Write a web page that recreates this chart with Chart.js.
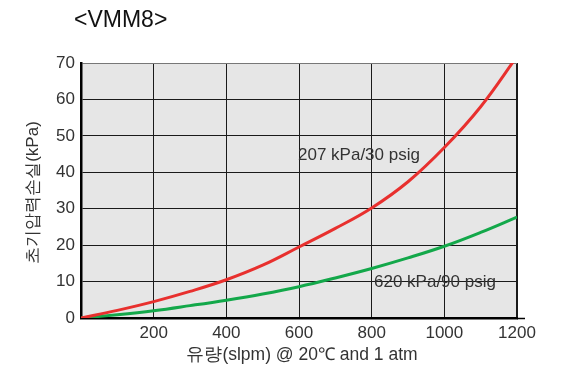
<!DOCTYPE html>
<html><head><meta charset="utf-8">
<script src="https://cdn.jsdelivr.net/npm/chart.js@4/dist/chart.umd.min.js"></script>
<style>html,body{margin:0;padding:0;background:#fff}#wrap{width:566px;height:371px}</style>
</head><body><div id="wrap"><canvas id="c" width="566" height="371"></canvas></div>
<script>
const chartTitle = "<VMM8>";
const flow = [0,100,200,300,400,500,600,700,800,900,1000,1100,1200];
const loss207 = [0,2.1,4.5,7.3,10.5,14.5,19.5,24.6,30.2,37.4,46.8,58.0,71.8];
const loss620 = [0,0.9,2.0,3.4,4.9,6.6,8.6,11.0,13.6,16.5,19.7,23.5,27.7];
const seriesLabels = ["207 kPa/30 psig","620 kPa/90 psig"];
const xTicks = [0,200,400,600,800,1000,1200];
const yTicks = [0,10,20,30,40,50,60,70];
const xTitle = "유량(slpm) @ 20℃ and 1 atm";
const yTitle = "초기압력손실(kPa)";

const FONT = "'Liberation Sans', Arial, sans-serif";
const TXT = "#333";

const textPlugin = {
  id: 'texts',
  afterDraw(chart) {
    const ctx = chart.ctx, a = chart.chartArea;
    ctx.save();
    ctx.fillStyle = "#111";
    ctx.font = "23px " + FONT;
    ctx.textBaseline = "alphabetic";
    ctx.textAlign = "left";
    ctx.fillText(chartTitle, 74, 27);
    ctx.fillStyle = TXT;
    ctx.font = "17px " + FONT;
    ctx.fillText(seriesLabels[0], 298, 160);
    ctx.fillText(seriesLabels[1], 374, 287);
    // x-axis title
    ctx.textAlign = "center"; ctx.textBaseline = "middle";
    ctx.font = "17.5px " + FONT;
    ctx.fillText(xTitle, (a.left + a.right) / 2 + 3, 355);
    // y-axis title
    ctx.save();
    ctx.translate(33, (a.top + a.bottom) / 2 + 2);
    ctx.rotate(-Math.PI / 2);
    ctx.font = "17px " + FONT;
    ctx.fillText(yTitle, 0, 0);
    ctx.restore();
    // x-axis line extension
    ctx.strokeStyle = "#000"; ctx.lineWidth = 1.5;
    ctx.beginPath(); ctx.moveTo(a.right, a.bottom + 0.5); ctx.lineTo(a.right + 8, a.bottom + 0.5); ctx.stroke();
    ctx.restore();
  }
};
const bgPlugin = {
  id: 'bg',
  beforeDraw(chart) {
    const a = chart.chartArea, ctx = chart.ctx;
    ctx.save(); ctx.fillStyle = "#e6e6e6";
    ctx.fillRect(a.left, a.top, a.right - a.left, a.bottom - a.top);
    ctx.restore();
  }
};

new Chart(document.getElementById('c'), {
  type: 'line',
  data: {
    labels: flow,
    datasets: [
      { label: seriesLabels[0], data: flow.map((x,i)=>({x, y: loss207[i]})), borderColor: '#e8302e', borderWidth: 3, pointRadius: 0, tension: 0.4, clip: 0 },
      { label: seriesLabels[1], data: flow.map((x,i)=>({x, y: loss620[i]})), borderColor: '#13a84a', borderWidth: 3, pointRadius: 0, tension: 0.4, clip: 0 }
    ]
  },
  options: {
    responsive: false, animation: false,
    layout: { padding: { top: 63, right: 49, left: 0, bottom: 0 } },
    plugins: { legend: { display: false }, tooltip: { enabled: false }, title: { display: false } },
    scales: {
      x: {
        type: 'linear', min: xTicks[0], max: xTicks[xTicks.length-1],
        afterBuildTicks(s) { s.ticks = xTicks.map(v => ({ value: v })); },
        afterFit(s) { s.height = 53; },
        ticks: { color: TXT, font: { family: FONT, size: 17 }, padding: 5, callback: v => v === 0 ? '' : String(v), maxRotation: 0 },
        grid: { color: '#1a1a1a', lineWidth: c => (c.index === xTicks.length-1 ? 2 : 1), tickLength: 0, drawTicks: false },
        border: { color: '#000', width: 2.5 },
        title: { display: false }
      },
      y: {
        min: yTicks[0], max: yTicks[yTicks.length-1],
        afterBuildTicks(s) { s.ticks = yTicks.map(v => ({ value: v })); },
        afterFit(s) { s.width = 81; },
        ticks: { color: TXT, font: { family: FONT, size: 17 }, padding: 6 },
        grid: { color: c => (c.index === yTicks.length-1 ? '#777' : '#1a1a1a'), lineWidth: 1, tickLength: 0, drawTicks: false },
        border: { color: '#000', width: 2.5 },
        title: { display: false }
      }
    }
  },
  plugins: [bgPlugin, textPlugin]
});
</script></body></html>
